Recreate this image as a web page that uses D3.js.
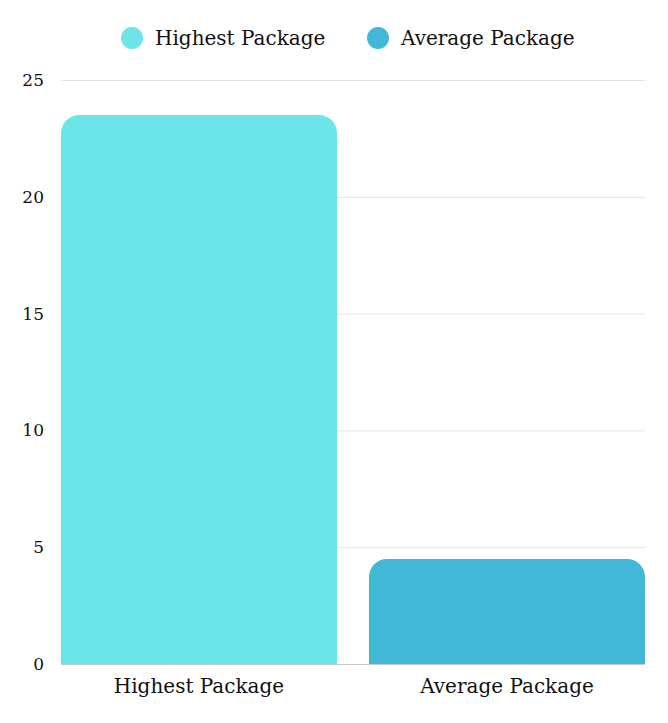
<!DOCTYPE html>
<html>
<head>
<meta charset="utf-8">
<script src="https://cdn.jsdelivr.net/npm/d3@7"></script>
<style>
  body { margin: 0; background: #fff; }
  text { font-family: "DejaVu Serif", serif; fill: #111; }
</style>
</head>
<body>
<script>
var categories = ['Highest Package', 'Average Package'];
var values = [23.5, 4.5];
var colors = ['#6ce5e8', '#41b8d5'];
var yTicks = [0, 5, 10, 15, 20, 25];

var chartWidth = 668,
    chartHeight = 723,
    plotLeft = 61,
    plotRight = 645,
    plotTop = 80,
    plotBottom = 664,
    cornerRadius = 18;

var svg = d3.select('body')
  .append('svg')
    .attr('width', chartWidth)
    .attr('height', chartHeight);

var x = d3.scaleBand()
  .domain(categories)
  .range([plotLeft, plotRight])
  .paddingInner(0.104)
  .paddingOuter(0);

var y = d3.scaleLinear()
  .domain([0, 25])
  .range([plotBottom, plotTop]);

// grid
svg.append('g')
  .selectAll('line')
  .data(yTicks.slice(1))
  .enter()
  .append('line')
    .attr('x1', plotLeft)
    .attr('x2', plotRight)
    .attr('y1', function(d) { return y(d) + 0.5; })
    .attr('y2', function(d) { return y(d) + 0.5; })
    .attr('stroke', '#e3e3e3')
    .attr('stroke-width', 1);

// y tick labels
svg.append('g')
  .selectAll('text')
  .data(yTicks)
  .enter()
  .append('text')
    .attr('x', 44)
    .attr('y', function(d) { return y(d); })
    .attr('dy', '0.35em')
    .attr('text-anchor', 'end')
    .style('font-size', '17px')
    .text(function(d) { return d; });

// bars with rounded top corners
function barPath(x0, y0, w, h, r) {
  r = Math.min(r, h, w / 2);
  return 'M' + x0 + ',' + (y0 + h) +
    'V' + (y0 + r) +
    'A' + r + ',' + r + ' 0 0 1 ' + (x0 + r) + ',' + y0 +
    'H' + (x0 + w - r) +
    'A' + r + ',' + r + ' 0 0 1 ' + (x0 + w) + ',' + (y0 + r) +
    'V' + (y0 + h) + 'Z';
}

svg.append('g')
  .selectAll('path')
  .data(values)
  .enter()
  .append('path')
    .attr('d', function(d, i) {
      return barPath(x(categories[i]), y(d), x.bandwidth(), y(0) - y(d), cornerRadius);
    })
    .attr('fill', function(d, i) { return colors[i]; });

// baseline
svg.append('line')
  .attr('x1', plotLeft)
  .attr('x2', plotRight)
  .attr('y1', y(0) + 0.5)
  .attr('y2', y(0) + 0.5)
  .attr('stroke', '#c8c8c8');

// x labels
svg.append('g')
  .selectAll('text')
  .data(categories)
  .enter()
  .append('text')
    .attr('x', function(d) { return x(d) + x.bandwidth() / 2; })
    .attr('y', 693)
    .attr('text-anchor', 'middle')
    .style('font-size', '20px')
    .text(function(d) { return d; });

// legend
var legendX = [132, 378];
var legend = svg.append('g')
  .selectAll('g')
  .data(categories)
  .enter()
  .append('g')
    .attr('transform', function(d, i) { return 'translate(' + legendX[i] + ',38)'; });

legend.append('circle')
  .attr('r', 11)
  .attr('fill', function(d, i) { return colors[i]; });

legend.append('text')
  .attr('x', 23)
  .attr('dy', '0.35em')
  .style('font-size', '20px')
  .text(function(d) { return d; });
</script>
</body>
</html>
